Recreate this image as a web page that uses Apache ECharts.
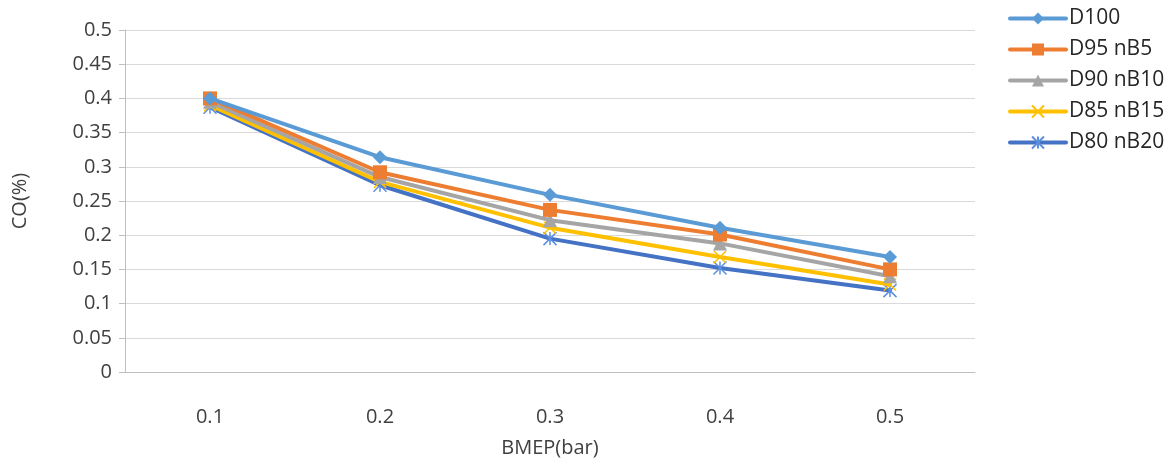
<!DOCTYPE html>
<html>
<head>
<meta charset="utf-8">
<script src="https://cdn.jsdelivr.net/npm/echarts@6/dist/echarts.min.js"></script>
<style>
  html, body { margin: 0; padding: 0; background: #fff; }
  #chart { width: 1175px; height: 464px; }
</style>
</head>
<body>
<div id="chart"></div>
<script>
// BMEP levels (bar)
const categories = ['0.1', '0.2', '0.3', '0.4', '0.5'];

// CO emissions (%) per fuel blend
const seriesNames = ['D100', 'D95 nB5', 'D90 nB10', 'D85 nB15', 'D80 nB20'];
const d100    = [0.400, 0.314, 0.259, 0.211, 0.168];
const d95nB5  = [0.400, 0.292, 0.237, 0.201, 0.150];
const d90nB10 = [0.395, 0.285, 0.222, 0.188, 0.140];
const d85nB15 = [0.390, 0.278, 0.211, 0.168, 0.128];
const d80nB20 = [0.387, 0.273, 0.195, 0.152, 0.119];

const colors = ['#5B9BD5', '#ED7D31', '#A5A5A5', '#FFC000', '#4472C4'];
const xMark = 'path://M0,0 L10,10 M10,0 L0,10';
const starMark = 'path://M0,0 L10,10 M10,0 L0,10 M5,0 L5,10';
const symbols = [
  { symbol: 'diamond', size: 14, stroke: false },
  { symbol: 'rect', size: 14, stroke: false },
  { symbol: 'triangle', size: 14, stroke: false },
  { symbol: xMark, size: 12, stroke: true },
  { symbol: starMark, size: 13, stroke: true }
];
const values = [d100, d95nB5, d90nB10, d85nB15, d80nB20];

const font = '"Open Sans", "Noto Sans", sans-serif';
const textColor = '#404040';

const series = seriesNames.map((name, i) => {
  const s = symbols[i];
  return {
    name: name,
    type: 'line',
    data: values[i],
    symbol: s.symbol,
    symbolSize: s.size,
    lineStyle: { color: colors[i], width: 4, cap: 'round' },
    itemStyle: s.stroke
      ? { color: 'rgba(0,0,0,0)', borderColor: i === 4 ? '#5B8FE0' : colors[i], borderWidth: 1.5 }
      : { color: colors[i], borderWidth: 0 },
    emphasis: { disabled: true },
    z: 10 - i
  };
});

const chart = echarts.init(document.getElementById('chart'), null, { renderer: 'canvas' });
chart.setOption({
  animation: false,
  color: colors,
  grid: {
    left: 125, right: 200, top: 30, bottom: 92,
    containLabel: false,
    outerBoundsMode: 'none'
  },
  legend: {
    orient: 'vertical',
    left: 1003,
    top: 3,
    itemWidth: 56,
    itemHeight: 15,
    itemGap: 10,
    lineStyle: { width: 4 },
    textStyle: { fontFamily: font, fontSize: 21, color: '#262626', padding: [0, 0, 0, -2] },
    data: seriesNames
  },
  xAxis: {
    type: 'category',
    data: categories,
    boundaryGap: true,
    name: 'BMEP(bar)',
    nameLocation: 'middle',
    nameGap: 66,
    nameTextStyle: { fontFamily: font, fontSize: 20, color: textColor },
    axisLine: { lineStyle: { color: '#BFBFBF', width: 1 } },
    axisTick: { show: false },
    axisLabel: { fontFamily: font, fontSize: 20, color: textColor, margin: 35 },
    splitLine: { show: false }
  },
  yAxis: {
    type: 'value',
    min: 0,
    max: 0.5,
    interval: 0.05,
    name: 'CO(%)',
    nameLocation: 'middle',
    nameGap: 95,
    nameTextStyle: { fontFamily: font, fontSize: 20, color: textColor },
    axisLine: { show: true, lineStyle: { color: '#BFBFBF', width: 1 } },
    axisTick: { show: true, length: 6, lineStyle: { color: '#BFBFBF' } },
    axisLabel: { fontFamily: font, fontSize: 20, color: textColor, margin: 13 },
    splitLine: { lineStyle: { color: '#D9D9D9', width: 1 } }
  },
  series: series
});
</script>
</body>
</html>
